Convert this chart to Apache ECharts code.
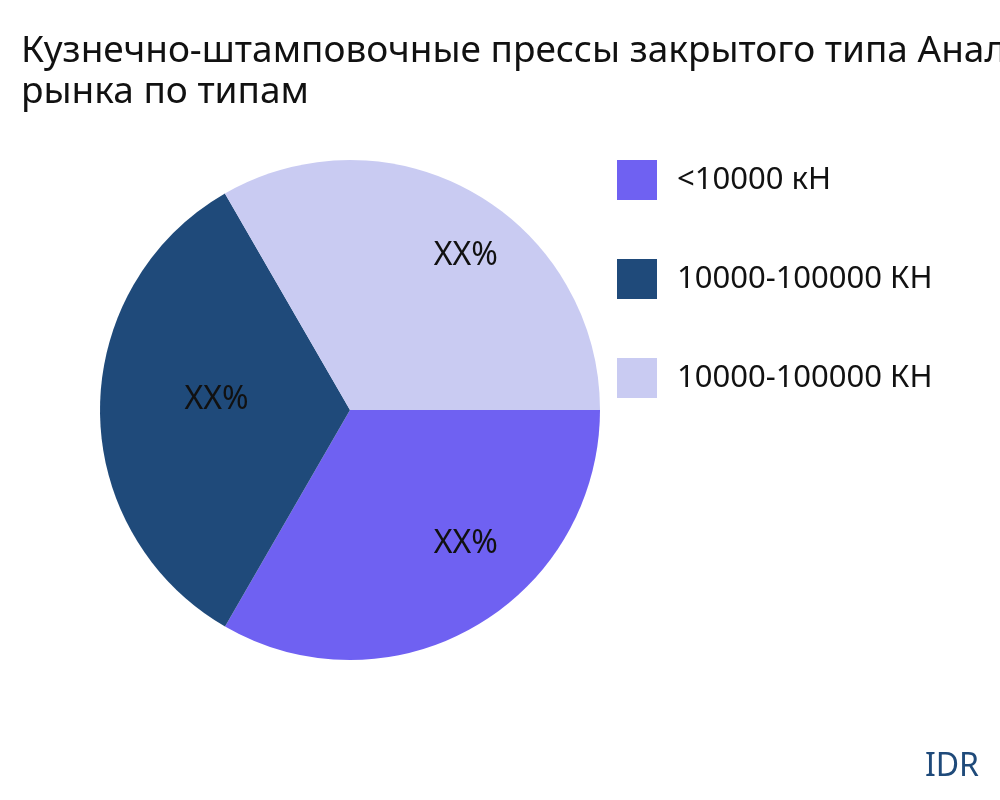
<!DOCTYPE html><html><head><meta charset="utf-8"><script src="https://cdn.jsdelivr.net/npm/echarts@6/dist/echarts.min.js"></script></head><body style="margin:0"><div id="c" style="width:1000px;height:800px"></div><script>
const categories=['<10000 кН','10000-100000 КН','10000-100000 КН '];
const values=[33.33,33.33,33.34];
const labels=['XX%','XX%','XX%'];
const colors=['#6f61f2','#1f4a7a','#c9cbf2'];
const ch=echarts.init(document.getElementById('c'));
const data=categories.map((n,i)=>({name:n,value:values[i],itemStyle:{color:colors[i]}}));
const offs=[[18,-35],[62,-10],[18,15]];
ch.setOption({
 textStyle:{fontFamily:'Noto Sans'},
 title:[{text:'Кузнечно-штамповочные прессы закрытого типа Анализ\nрынка по типам',left:16,top:26,textStyle:{fontSize:37,fontWeight:'normal',color:'#111',lineHeight:41,fontFamily:'Noto Sans'}},
 {text:'IDR',right:16,bottom:12,textStyle:{fontSize:32,fontWeight:'normal',color:'#1f4a7a',fontFamily:'Noto Sans'}}],
 legend:{orient:'vertical',left:612,top:155,itemWidth:40,itemHeight:40,itemGap:59,icon:'rect',textStyle:{fontSize:31,color:'#111',padding:[0,0,0,15]},data:categories},
 series:[
 {type:'pie',center:[350,410],radius:[0,250],startAngle:0,clockwise:true,data:data,label:{show:false},labelLine:{show:false},silent:true},
 {type:'pie',center:[350,410],radius:[0,385],startAngle:0,clockwise:true,silent:true,legendHoverLink:false,
  data:categories.map((n,i)=>({name:'l'+i,value:values[i],itemStyle:{color:'rgba(0,0,0,0)'},label:{offset:offs[i]}})),
  label:{show:true,position:'inside',formatter:p=>labels[p.dataIndex],fontSize:32,color:'#111'},labelLine:{show:false}}
 ]
});
</script></body></html>
